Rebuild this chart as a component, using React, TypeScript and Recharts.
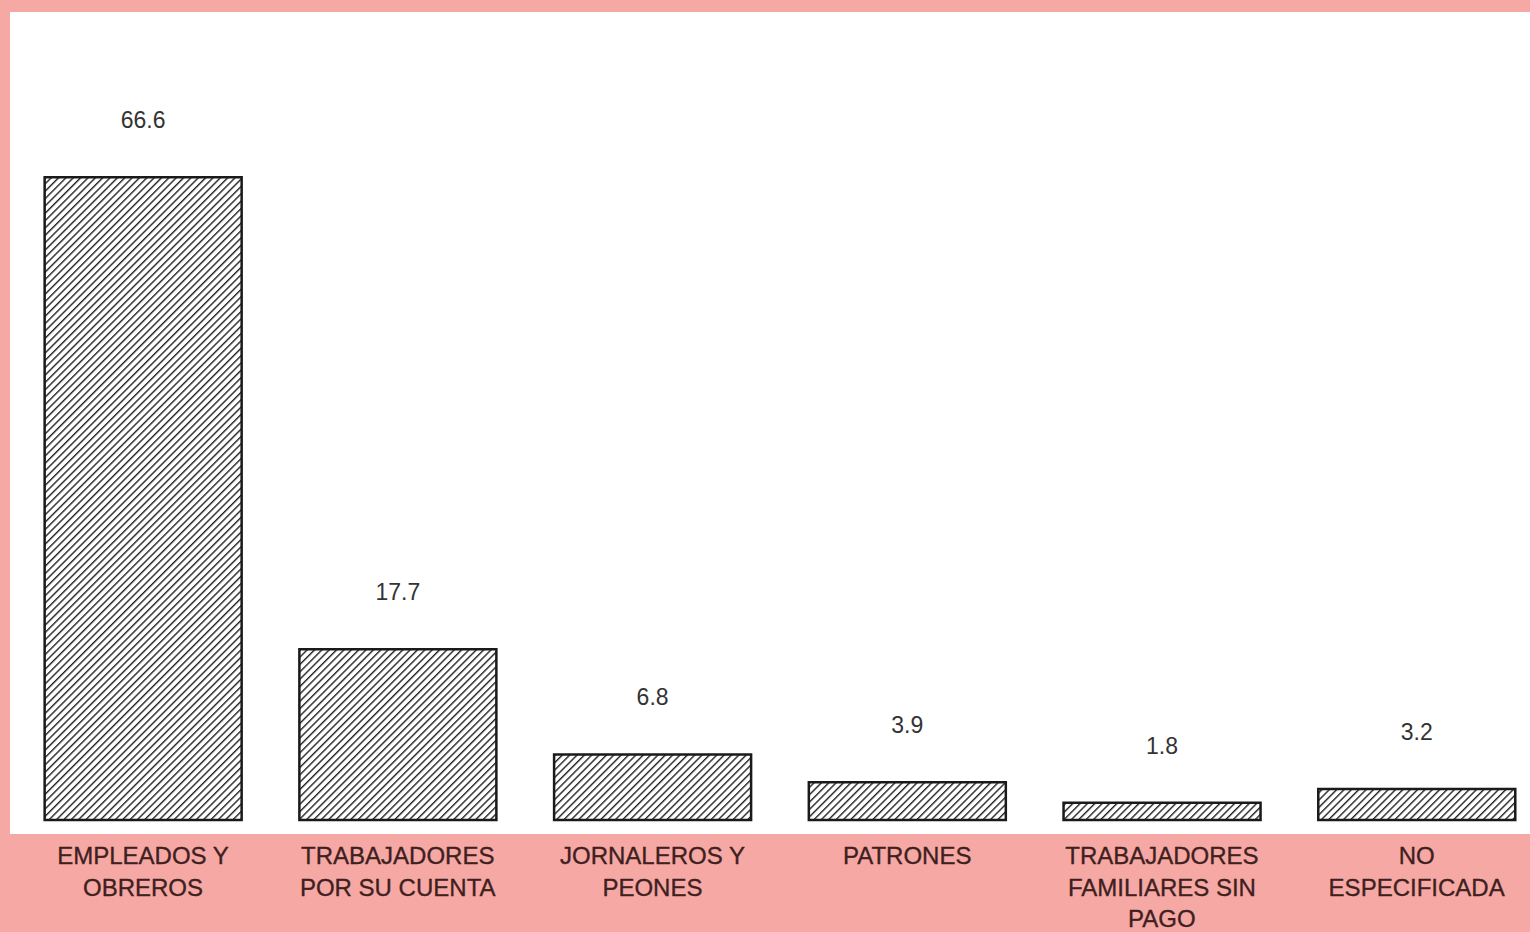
import React from "react";
import { BarChart, Bar, XAxis, YAxis, LabelList } from "recharts";

const categories = [
  "EMPLEADOS Y OBREROS",
  "TRABAJADORES POR SU CUENTA",
  "JORNALEROS Y PEONES",
  "PATRONES",
  "TRABAJADORES FAMILIARES SIN PAGO",
  "NO ESPECIFICADA",
];

const tickLines: string[][] = [
  ["EMPLEADOS Y", "OBREROS"],
  ["TRABAJADORES", "POR SU CUENTA"],
  ["JORNALEROS Y", "PEONES"],
  ["PATRONES"],
  ["TRABAJADORES", "FAMILIARES SIN", "PAGO"],
  ["NO", "ESPECIFICADA"],
];

const values = [66.6, 17.7, 6.8, 3.9, 1.8, 3.2];

const data = categories.map((c, i) => ({ name: c, value: values[i], idx: i }));

const PINK = "#F6A9A4";
const FONT = "'Liberation Sans', Arial, Helvetica, sans-serif";

const CategoryTick = (props: any) => {
  const { x, y, payload } = props;
  const lines = tickLines[payload.index] || [payload.value];
  return (
    <g>
      {lines.map((l: string, i: number) => (
        <text
          key={i}
          x={x}
          y={y + 30 + i * 31.5}
          textAnchor="middle"
          dominantBaseline="middle"
          fontFamily={FONT}
          fontSize={24}
          fill="#3f1f1f"
          stroke="#3f1f1f"
          strokeWidth={0.35}
        >
          {l}
        </text>
      ))}
    </g>
  );
};

const ValueLabel = (props: any) => {
  const { x, y, width, value } = props;
  return (
    <text
      x={x + width / 2}
      y={y - 55}
      textAnchor="middle"
      dominantBaseline="middle"
      fontFamily={FONT}
      fontSize={23}
      fill="#333333"
    >
      {value}
    </text>
  );
};

export default function App() {
  return (
    <div
      style={{
        position: "absolute",
        left: 0,
        top: 0,
        width: 1530,
        height: 932,
        overflow: "hidden",
        background: PINK,
      }}
    >
      <svg width={0} height={0} style={{ position: "absolute" }}>
        <defs>
          <pattern
            id="hatch"
            width={5.2}
            height={5.2}
            patternUnits="userSpaceOnUse"
            patternTransform="rotate(45)"
          >
            <rect width={5.2} height={5.2} fill="#ffffff" />
            <line x1={0} y1={0} x2={0} y2={5.2} stroke="#222222" strokeWidth={2.8} />
          </pattern>
        </defs>
      </svg>
      <div
        style={{
          position: "absolute",
          left: 10,
          top: 12,
          width: 1520,
          height: 822,
          background: "#ffffff",
        }}
      />
      <div style={{ position: "absolute", left: 0, top: 0 }}>
        <BarChart
          width={1560}
          height={932}
          data={data}
          margin={{ top: 144.5, left: 15.65, right: 16, bottom: 82 }}
          barSize={197}
        >
          <XAxis
            dataKey="name"
            axisLine={false}
            tickLine={false}
            height={30}
            interval={0}
            tick={<CategoryTick />}
          />
          <YAxis hide domain={[0, 70]} />
          <Bar
            dataKey="value"
            fill="url(#hatch)"
            stroke="#1a1a1a"
            strokeWidth={2.5}
            isAnimationActive={false}
          >
            <LabelList dataKey="value" content={<ValueLabel />} />
          </Bar>
        </BarChart>
      </div>
    </div>
  );
}
